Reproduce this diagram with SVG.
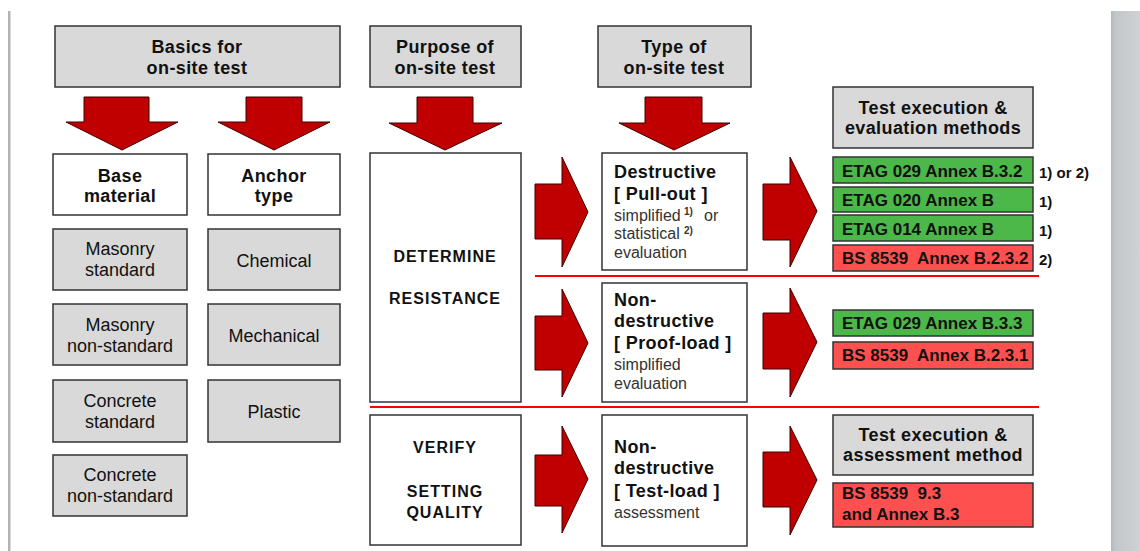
<svg xmlns="http://www.w3.org/2000/svg" width="1140" height="551" viewBox="0 0 1140 551">
<defs>
<linearGradient id="bar" x1="0" y1="0" x2="1" y2="0">
<stop offset="0" stop-color="#b4b8bc"/>
<stop offset="0.15" stop-color="#c4c7ca"/>
<stop offset="1" stop-color="#cfd2d5"/>
</linearGradient>
<style>
.hdr{fill:#d9d9d9;stroke:#333;stroke-width:1.5}
.wht{fill:#fff;stroke:#333;stroke-width:1.5}
.gry{fill:#d9d9d9;stroke:#333;stroke-width:1.5}
.grn{fill:#4cb84a;stroke:#333;stroke-width:1.5}
.red{fill:#ff5050;stroke:#333;stroke-width:1.5}
.arr{fill:#c00000;stroke:#3a0000;stroke-width:1}
.sep{stroke:#ff0000;stroke-width:2}
text{font-family:"Liberation Sans",Arial,sans-serif;fill:#111}
.b{font-weight:bold;font-size:18px;letter-spacing:0.4px}
.g{font-weight:bold;font-size:17px}
.c{text-anchor:middle}
.r{font-size:18px}
.s{font-size:16px;fill:#333}
.sup{font-size:10px;font-weight:bold;fill:#333}
.cap{font-weight:bold;font-size:16px;letter-spacing:1px}
.fn{font-weight:bold;font-size:15px}
</style>
</defs>
<rect width="1140" height="551" fill="#fff"/>
<rect x="8" y="11" width="2.5" height="540" fill="#b0b3b6"/>
<rect x="1111" y="11" width="29" height="540" fill="url(#bar)"/>

<g id="connectors">
<path class="arr" d="M84,97 H149 V122 H178 L122,150 L66,122 H84 Z"/>
<path class="arr" d="M246,97 H302 V122 H330 L274,150 L218,122 H246 Z"/>
<path class="arr" d="M417,97 H473 V123 H502 L445,150 L389,123 H417 Z"/>
<path class="arr" d="M645,97 H702 V123 H730 L674,150 L619,123 H645 Z"/>
<path class="arr" d="M535,184 H562 V157 L588,212 L562,267 V239 H535 Z"/>
<path class="arr" d="M535,316 H562 V289 L588,343 L562,397 V370 H535 Z"/>
<path class="arr" d="M535,455 H562 V426 L588,479 L562,533 V506 H535 Z"/>
<path class="arr" d="M763,184 H790 V157 L817,211 L790,267 V240 H763 Z"/>
<path class="arr" d="M763,313 H790 V288 L817,342 L790,397 V369 H763 Z"/>
<path class="arr" d="M763,452 H790 V426 L817,480 L790,535 V507 H763 Z"/>
<line class="sep" x1="535" y1="276" x2="1039" y2="276"/>
<line class="sep" x1="370" y1="407" x2="1039" y2="407"/>
</g>

<g id="basics">
<rect class="hdr" x="55" y="26" width="285" height="61"/>
<text class="b c" x="197" y="53">Basics for</text>
<text class="b c" x="197" y="74">on-site test</text>
</g>
<g id="purpose">
<rect class="hdr" x="370" y="26" width="151" height="61"/>
<text class="b c" x="445" y="53">Purpose of</text>
<text class="b c" x="445" y="74">on-site test</text>
</g>
<g id="type">
<rect class="hdr" x="598" y="26" width="153" height="61"/>
<text class="b c" x="674" y="53">Type of</text>
<text class="b c" x="674" y="74">on-site test</text>
</g>
<g id="test-exec-eval">
<rect class="hdr" x="833" y="87" width="200" height="61"/>
<text class="b c" x="933" y="114">Test execution &amp;</text>
<text class="b c" x="933" y="134">evaluation methods</text>
</g>

<g id="base-material">
<rect class="wht" x="53" y="154" width="134" height="61"/>
<text class="b c" x="120" y="182">Base</text>
<text class="b c" x="120" y="202">material</text>
</g>
<g id="anchor-type">
<rect class="wht" x="208" y="154" width="132" height="61"/>
<text class="b c" x="274" y="182">Anchor</text>
<text class="b c" x="274" y="202">type</text>
</g>

<g id="masonry-standard">
<rect class="gry" x="53" y="229" width="134" height="61"/>
<text class="r c" x="120" y="255">Masonry</text>
<text class="r c" x="120" y="276">standard</text>
</g>
<g id="masonry-nonstandard">
<rect class="gry" x="53" y="304" width="134" height="61"/>
<text class="r c" x="120" y="331">Masonry</text>
<text class="r c" x="120" y="352">non-standard</text>
</g>
<g id="concrete-standard">
<rect class="gry" x="53" y="380" width="134" height="62"/>
<text class="r c" x="120" y="407">Concrete</text>
<text class="r c" x="120" y="428">standard</text>
</g>
<g id="concrete-nonstandard">
<rect class="gry" x="53" y="455" width="134" height="61"/>
<text class="r c" x="120" y="481">Concrete</text>
<text class="r c" x="120" y="502">non-standard</text>
</g>
<g id="chemical">
<rect class="gry" x="208" y="229" width="132" height="61"/>
<text class="r c" x="274" y="267">Chemical</text>
</g>
<g id="mechanical">
<rect class="gry" x="208" y="304" width="132" height="61"/>
<text class="r c" x="274" y="342">Mechanical</text>
</g>
<g id="plastic">
<rect class="gry" x="208" y="380" width="132" height="62"/>
<text class="r c" x="274" y="418">Plastic</text>
</g>

<g id="determine-resistance">
<rect class="wht" x="370" y="153" width="151" height="249"/>
<text class="cap c" x="445" y="262">DETERMINE</text>
<text class="cap c" x="445" y="304">RESISTANCE</text>
</g>
<g id="verify-setting-quality">
<rect class="wht" x="370" y="415" width="151" height="130"/>
<text class="cap c" x="445" y="453">VERIFY</text>
<text class="cap c" x="445" y="497">SETTING</text>
<text class="cap c" x="445" y="518">QUALITY</text>
</g>

<g id="destructive">
<rect class="wht" x="602" y="153" width="145" height="117"/>
<text class="b" x="614" y="178">Destructive</text>
<text class="b" x="614" y="200">[ Pull-out ]</text>
<text class="s" x="614" y="221">simplified</text>
<text class="sup" x="684" y="215">1)</text>
<text class="s" x="704" y="221">or</text>
<text class="s" x="614" y="239">statistical</text>
<text class="sup" x="684" y="234">2)</text>
<text class="s" x="614" y="258">evaluation</text>
</g>
<g id="proof-load">
<rect class="wht" x="602" y="283" width="145" height="119"/>
<text class="b" x="614" y="306">Non-</text>
<text class="b" x="614" y="327">destructive</text>
<text class="b" x="614" y="349">[ Proof-load ]</text>
<text class="s" x="614" y="370">simplified</text>
<text class="s" x="614" y="389">evaluation</text>
</g>
<g id="test-load">
<rect class="wht" x="602" y="415" width="145" height="131"/>
<text class="b" x="614" y="453">Non-</text>
<text class="b" x="614" y="474">destructive</text>
<text class="b" x="614" y="497">[ Test-load ]</text>
<text class="s" x="614" y="518">assessment</text>
</g>

<g id="etag029-b32">
<rect class="grn" x="833" y="157" width="200" height="26"/>
<text class="g" x="842" y="177">ETAG 029 Annex B.3.2</text>
<text class="fn" x="1039" y="178">1) or 2)</text>
</g>
<g id="etag020-b">
<rect class="grn" x="833" y="187" width="200" height="25"/>
<text class="g" x="842" y="206">ETAG 020 Annex B</text>
<text class="fn" x="1039" y="207">1)</text>
</g>
<g id="etag014-b">
<rect class="grn" x="833" y="215" width="200" height="26"/>
<text class="g" x="842" y="235">ETAG 014 Annex B</text>
<text class="fn" x="1039" y="236">1)</text>
</g>
<g id="bs8539-b232">
<rect class="red" x="833" y="245" width="200" height="26"/>
<text class="g" x="842" y="264" xml:space="preserve">BS 8539  Annex B.2.3.2</text>
<text class="fn" x="1039" y="265">2)</text>
</g>
<g id="etag029-b33">
<rect class="grn" x="833" y="310" width="200" height="26"/>
<text class="g" x="842" y="329">ETAG 029 Annex B.3.3</text>
</g>
<g id="bs8539-b231">
<rect class="red" x="833" y="342" width="200" height="27"/>
<text class="g" x="842" y="361" xml:space="preserve">BS 8539  Annex B.2.3.1</text>
</g>
<g id="test-exec-assess">
<rect class="hdr" x="833" y="415" width="200" height="60"/>
<text class="b c" x="933" y="441">Test execution &amp;</text>
<text class="b c" x="933" y="461">assessment method</text>
</g>
<g id="bs8539-93">
<rect class="red" x="833" y="483" width="200" height="44"/>
<text class="g" x="842" y="499" xml:space="preserve">BS 8539  9.3</text>
<text class="g" x="842" y="520">and Annex B.3</text>
</g>
</svg>
